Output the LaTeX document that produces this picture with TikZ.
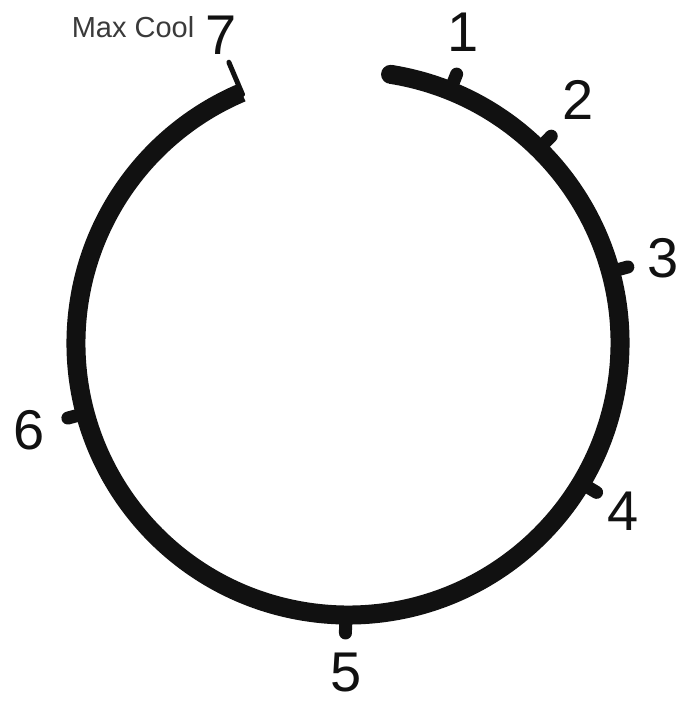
\documentclass[tikz,border=0pt]{standalone}
\usepackage{fontspec}
\setmainfont{Liberation Sans}
\definecolor{dialcol}{HTML}{111111}
\definecolor{notecol}{HTML}{3A3A3A}
\tikzset{
  ring/.style={draw=dialcol, line width=19pt, line cap=butt},
  tickline/.style={draw=dialcol, line width=13pt, line cap=round},
  thintick/.style={draw=dialcol, line width=5pt, line cap=round},
  numnode/.style={inner sep=0pt, text=dialcol, font=\fontsize{56}{56}\selectfont},
  notenode/.style={inner sep=0pt, text=notecol, font=\fontsize{29}{29}\selectfont},
}
\begin{document}
\begin{tikzpicture}[x=1pt, y=1pt]
  \useasboundingbox (0,0) rectangle (680,702);
  \coordinate (c) at (348,359);
  % dial ring, open at the top
  \draw[ring, shift={(c)}] (81:272pt) arc[start angle=81, end angle=-247, radius=272pt];
  \fill[dialcol, shift={(c)}] (81:272pt) circle[radius=9.5pt];
  % setting marks and numbers
  \foreach \a/\n/\lx/\ly in {68/1/463/670, 45.5/2/578/602, 15.2/3/663/444,
                             -31/4/623/191, -90.5/5/346/29, 195/6/29/272} {
    \draw[tickline, shift={(c)}] (\a:272pt) -- (\a:290pt);
    \node[numnode] (lbl\n) at (\lx,\ly) {\n};
  }
  \draw[thintick, shift={(c)}] (113:270pt) -- (113:305pt);
  \node[numnode] (lbl7) at (221,667) {7};
  \node[notenode] (maxcool) at (133,675) {Max Cool};
\end{tikzpicture}
\end{document}
